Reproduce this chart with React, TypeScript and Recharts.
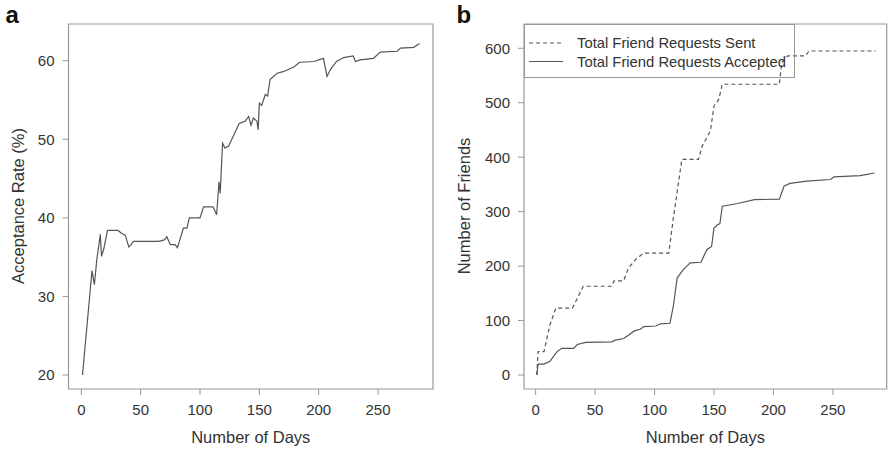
import React from "react";
import {
  LineChart,
  Line,
  XAxis,
  YAxis,
  ReferenceArea,
  Legend,
} from "recharts";

// ---------- Data ----------
const rateDays = [
  1, 9, 11, 13, 16, 17, 19, 22, 31, 34, 37, 40, 42, 44, 65, 70, 72, 75, 79, 81,
  83, 86, 89, 91, 100, 103, 111, 114, 116, 117, 119, 121, 124, 128, 133, 138,
  141, 143, 145, 148, 149, 150, 152, 155, 157, 159, 165, 170, 179, 184, 196,
  204, 207, 210, 212, 215, 221, 229, 231, 235, 246, 252, 266, 269, 280, 285,
];
const rateValues = [
  20.0, 33.3, 31.5, 34.6, 37.9, 35.1, 36.1, 38.4, 38.4, 38.0, 37.8, 36.3, 36.6,
  37.0, 37.0, 37.2, 37.6, 36.6, 36.6, 36.2, 37.2, 38.7, 38.7, 40.0, 40.0, 41.4,
  41.4, 40.4, 44.6, 43.1, 49.5, 48.9, 49.1, 50.4, 52.0, 52.3, 52.9, 51.8, 52.7,
  52.3, 51.2, 54.6, 54.3, 55.7, 55.5, 57.6, 58.4, 58.6, 59.2, 59.8, 59.9, 60.3,
  58.0, 58.9, 59.3, 59.9, 60.4, 60.6, 59.9, 60.1, 60.3, 61.1, 61.2, 61.6, 61.7,
  62.2,
];

const sentDays = [
  1, 2, 7, 12, 17, 31, 40, 64, 66, 74, 78, 84, 91, 112, 116, 123, 137, 140, 147,
  150, 154, 157, 205, 207, 212, 227, 230, 286,
];
const sentValues = [
  0, 43, 43, 92, 123, 123, 163, 163, 173, 173, 196, 212, 224, 224, 291, 396, 396,
  420, 448, 494, 506, 534, 534, 574, 586, 586, 595, 595,
];

const acceptedDays = [
  1, 2, 7, 12, 18, 22, 32, 35, 42, 64, 67, 74, 78, 83, 88, 91, 101, 105, 113,
  116, 119, 124, 130, 139, 144, 148, 150, 153, 155, 157, 170, 184, 205, 209, 214,
  228, 248, 251, 273, 285,
];
const acceptedValues = [
  0, 20, 20, 25, 43, 49, 49, 56, 60, 61, 64, 67, 73, 81, 84, 89, 90, 94, 95, 129,
  178, 193, 206, 207, 230, 236, 270, 276, 278, 310, 315, 322, 323, 347, 352, 356,
  359, 364, 366, 371,
];

const xTicks = [0, 50, 100, 150, 200, 250];
const rateTicks = [20, 30, 40, 50, 60];
const friendTicks = [0, 100, 200, 300, 400, 500, 600];

const seriesNames = ["Total Friend Requests Sent", "Total Friend Requests Accepted"];

const rateData = rateDays.map((d, i) => ({ day: d, value: rateValues[i] }));
const sentData = sentDays.map((d, i) => ({ day: d, value: sentValues[i] }));
const acceptedData = acceptedDays.map((d, i) => ({ day: d, value: acceptedValues[i] }));

// ---------- Styles ----------
const FONT = '"Liberation Sans", Arial, Helvetica, sans-serif';
const TEXT = "#333";
const LINE = "#555";
const BOX = "#999";
const DASH = "4 3";

const xDomA: [number, number] = [-10.8, 296.3];
const yDomA: [number, number] = [18.22, 64.67];
const xDomB: [number, number] = [-9.8, 295.3];
const yDomB: [number, number] = [-25.7, 644.6];

const tickStyle = { fill: TEXT, fontSize: 15, fontFamily: FONT };

const xTitle = (text: string) => (props: any) => {
  const vb = props.viewBox;
  return (
    <text
      x={vb.x + vb.width / 2}
      y={437}
      textAnchor="middle"
      dominantBaseline="central"
      fill={TEXT}
      fontSize={16.5}
      fontFamily={FONT}
    >
      {text}
    </text>
  );
};

const yTitle = (text: string, cx: number) => () => {
  const cy = 206;
  return (
    <text
      x={cx}
      y={cy}
      transform={`rotate(-90 ${cx} ${cy})`}
      textAnchor="middle"
      dominantBaseline="central"
      fill={TEXT}
      fontSize={16.5}
      fontFamily={FONT}
    >
      {text}
    </text>
  );
};

const renderLegend = () => (
  <div
    style={{
      width: 271,
      height: 54,
      border: `1px solid ${BOX}`,
      boxSizing: "border-box",
      position: "relative",
    }}
  >
    <svg width={271} height={54} style={{ position: "absolute", left: -1, top: -1 }}>
      <line x1={5} x2={39} y1={19} y2={19} stroke={LINE} strokeWidth={1.2} strokeDasharray={DASH} />
      <text x={53} y={19} dominantBaseline="central" fill={TEXT} fontSize={14.8} fontFamily={FONT}>
        {seriesNames[0]}
      </text>
      <line x1={5} x2={39} y1={37.5} y2={37.5} stroke={LINE} strokeWidth={1.2} />
      <text x={53} y={37.5} dominantBaseline="central" fill={TEXT} fontSize={14.8} fontFamily={FONT}>
        {seriesNames[1]}
      </text>
    </svg>
  </div>
);

export default function App() {
  return (
    <div
      style={{
        position: "absolute",
        left: 0,
        top: 0,
        width: 888,
        height: 450,
        background: "#fff",
        overflow: "hidden",
      }}
    >
      <div style={{ position: "absolute", left: 0, top: 0 }}>
        <LineChart width={444} height={450} margin={{ top: 24, right: 11, bottom: 11, left: 8.5 }}>
          <XAxis
            type="number"
            dataKey="day"
            domain={xDomA}
            allowDataOverflow
            ticks={xTicks}
            axisLine={false}
            tickLine={{ stroke: BOX }}
            tickSize={6}
            tickMargin={9}
            tick={tickStyle}
            height={50}
            label={{ content: xTitle("Number of Days") }}
          />
          <YAxis
            type="number"
            dataKey="value"
            domain={yDomA}
            allowDataOverflow
            ticks={rateTicks}
            axisLine={false}
            tickLine={{ stroke: BOX }}
            tickSize={6}
            tickMargin={8}
            tick={tickStyle}
            width={60}
            label={{ content: yTitle("Acceptance Rate (%)", 17.5) }}
          />
          <ReferenceArea
            x1={xDomA[0]}
            x2={xDomA[1]}
            y1={yDomA[0]}
            y2={yDomA[1]}
            fill="none"
            stroke={BOX}
            strokeWidth={1.2}
          />
          <Line
            data={rateData}
            dataKey="value"
            type="linear"
            stroke={LINE}
            strokeWidth={1.2}
            dot={false}
            isAnimationActive={false}
          />
        </LineChart>
      </div>
      <div style={{ position: "absolute", left: 444, top: 0 }}>
        <LineChart width={444} height={450} margin={{ top: 24, right: 1.3, bottom: 11, left: 20 }}>
          <XAxis
            type="number"
            dataKey="day"
            domain={xDomB}
            allowDataOverflow
            ticks={xTicks}
            axisLine={false}
            tickLine={{ stroke: BOX }}
            tickSize={6}
            tickMargin={9}
            tick={tickStyle}
            height={50}
            label={{ content: xTitle("Number of Days") }}
          />
          <YAxis
            type="number"
            dataKey="value"
            domain={yDomB}
            allowDataOverflow
            ticks={friendTicks}
            axisLine={false}
            tickLine={{ stroke: BOX }}
            tickSize={6}
            tickMargin={8}
            tick={tickStyle}
            width={60}
            label={{ content: yTitle("Number of Friends", 20) }}
          />
          <ReferenceArea
            x1={xDomB[0]}
            x2={xDomB[1]}
            y1={yDomB[0]}
            y2={yDomB[1]}
            fill="none"
            stroke={BOX}
            strokeWidth={1.2}
          />
          <Line
            data={sentData}
            dataKey="value"
            name={seriesNames[0]}
            type="linear"
            stroke={LINE}
            strokeWidth={1.2}
            strokeDasharray={DASH}
            dot={false}
            isAnimationActive={false}
          />
          <Line
            data={acceptedData}
            dataKey="value"
            name={seriesNames[1]}
            type="linear"
            stroke={LINE}
            strokeWidth={1.2}
            dot={false}
            isAnimationActive={false}
          />
          <Legend
            layout="vertical"
            align="center"
            verticalAlign="middle"
            content={renderLegend}
            wrapperStyle={{ left: 80, top: 24, width: 271, height: 54 }}
          />
        </LineChart>
      </div>
      <svg
        width={888}
        height={30}
        style={{ position: "absolute", left: 0, top: 0, pointerEvents: "none" }}
      >
        <text x={5.5} y={22.5} fontSize={24} fontWeight="bold" fontFamily={FONT} fill="#111">
          a
        </text>
        <text x={456.5} y={22.5} fontSize={24} fontWeight="bold" fontFamily={FONT} fill="#111">
          b
        </text>
      </svg>
    </div>
  );
}
